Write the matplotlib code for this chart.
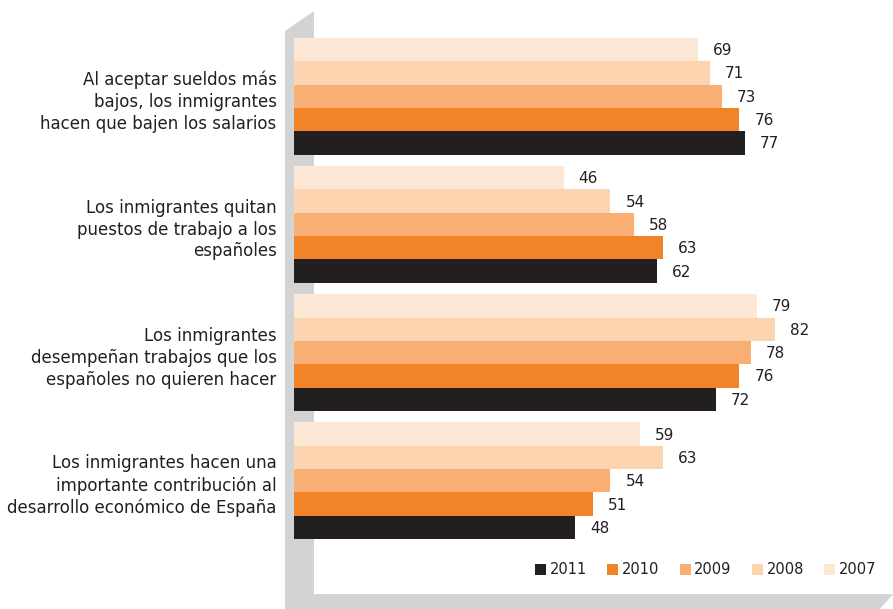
import matplotlib
matplotlib.use("Agg")
import matplotlib.pyplot as plt
from matplotlib.patches import Polygon, Patch
import numpy as np

categories = [
    "Al aceptar sueldos más\nbajos, los inmigrantes\nhacen que bajen los salarios",
    "Los inmigrantes quitan\npuestos de trabajo a los\nespañoles",
    "Los inmigrantes\ndesempeñan trabajos que los\nespañoles no quieren hacer",
    "Los inmigrantes hacen una\nimportante contribución al\ndesarrollo económico de España",
]
years = ["2007", "2008", "2009", "2010", "2011"]
v2007 = [69, 46, 79, 59]
v2008 = [71, 54, 82, 63]
v2009 = [73, 58, 78, 54]
v2010 = [76, 63, 76, 51]
v2011 = [77, 62, 72, 48]
series = [v2007, v2008, v2009, v2010, v2011]
colors = ["#fde8d6", "#fcd4b0", "#f9ae74", "#f28428", "#231f20"]

plt.rcParams["font.family"] = ["DejaVu Sans"]
txt = "#231f20"

W, H = 893, 609
fig = plt.figure(figsize=(W / 100, H / 100), dpi=100)

def P(x, y):
    return (x / W, 1 - y / H)

gray = "#d1d3d4"
wall = Polygon([P(285, 609), P(285, 31), P(314, 11), P(314, 594), P(893, 594), P(880, 609)],
               closed=True, transform=fig.transFigure, facecolor=gray, edgecolor="none", zorder=-5)
fig.add_artist(wall)

ax_left, ax_right = 294, 893
ax_top, ax_bot = 38, 539
ax = fig.add_axes([ax_left / W, 1 - ax_bot / H, (ax_right - ax_left) / W, (ax_bot - ax_top) / H])
ax.patch.set_alpha(0)
for s in ax.spines.values():
    s.set_visible(False)

scale = 5.86
ax.set_xlim(0, (ax_right - ax_left) / scale)
pitch = 5.5
ax.set_ylim(3 * pitch + 5, 0)

for k, (vals, c) in enumerate(zip(series, colors)):
    ys = np.arange(len(categories)) * pitch + k + 0.5
    ax.barh(ys, vals, height=1.0, color=c, edgecolor="none")
    for y, v in zip(ys, vals):
        ax.annotate(str(v), (v, y), xytext=(15, -1), textcoords="offset pixels",
                    ha="left", va="center", fontsize=11, color=txt)

ax.set_yticks(np.arange(len(categories)) * pitch + 2.5 + 0.05)
ax.set_yticklabels(categories, fontsize=12, color=txt, linespacing=1.28)
ax.tick_params(axis="y", length=0, pad=12.5)
ax.set_xticks([])

handles = [Patch(facecolor=c, edgecolor="none") for c in colors[::-1]]
leg = fig.legend(handles, years[::-1], loc="center left", bbox_to_anchor=(535 / W, 1 - 570 / H),
                 ncol=5, frameon=False, fontsize=10.5, handlelength=0.75, handleheight=0.75,
                 handletextpad=0.25, columnspacing=1.4, borderaxespad=0, borderpad=0)
for t in leg.get_texts():
    t.set_color(txt)

fig.savefig("out.png", dpi=100)
